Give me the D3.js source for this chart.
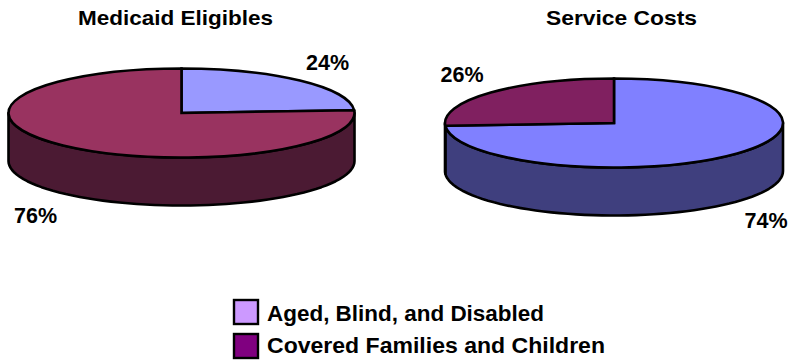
<!DOCTYPE html>
<html><head><meta charset="utf-8"><script src="https://cdn.jsdelivr.net/npm/d3@7"></script>
<style>html,body{margin:0;background:#fff}svg{display:block}text{font-family:"Liberation Sans";font-weight:bold;fill:#000}</style></head>
<body><svg id="c" width="790" height="361"></svg>
<script>
const chartTitles=["Medicaid Eligibles","Service Costs"];
const categories=["Aged, Blind, and Disabled","Covered Families and Children"];
const eligibles=[24,76];
const costs=[74,26];
const eligiblesTop=["#9999ff","#993360"];
const eligiblesSide=["#4c4c80","#4b1a33"];
const costsTop=["#8080ff","#802060"];
const costsSide=["#3f3f7e","#401030"];
const legendColors=["#cc99ff","#800080"];
const svg=d3.select("#c");
const pies=[
 {title:chartTitles[0],vals:eligibles,top:eligiblesTop,side:eligiblesSide,cx:181.5,cy:113,rx:173,ry:44.5,d:48,tx:175.5,ty:25,tl:195,
  labels:[{x:327.5,y:70},{x:35.5,y:223}]},
 {title:chartTitles[1],vals:costs,top:costsTop,side:costsSide,cx:614,cy:123,rx:169,ry:44.5,d:48,tx:621.5,ty:25,tl:151,
  labels:[{x:766,y:228},{x:462,y:82}]}
];
const pie=d3.pie().sort(null);
pies.forEach(p=>{
  const g=svg.append("g");
  const arcs=pie(p.vals);
  const px=d3.scaleLinear().domain([-1,1]).range([p.cx-p.rx,p.cx+p.rx]);
  const py=d3.scaleLinear().domain([-1,1]).range([p.cy-p.ry,p.cy+p.ry]);
  arcs.forEach((a,i)=>{
    const s=Math.max(a.startAngle,Math.PI/2), e=Math.min(a.endAngle,3*Math.PI/2);
    if(e<=s) return;
    const pts=d3.range(0,61).map(k=>s+(e-s)*k/60);
    const ptx=t=>[px(Math.sin(t)),py(-Math.cos(t))];
    const path=d3.path();
    pts.forEach((t,k)=>{const q=ptx(t);k?path.lineTo(q[0],q[1]):path.moveTo(q[0],q[1]);});
    pts.slice().reverse().forEach(t=>{const q=ptx(t);path.lineTo(q[0],q[1]+p.d);});
    path.closePath();
    g.append("path").attr("d",path.toString()).attr("fill",p.side[i]).attr("stroke","#000").attr("stroke-width",2.6).attr("stroke-linejoin","round");
  });
  const arc=d3.arc().innerRadius(0).outerRadius(1);
  const t=g.append("g").attr("transform",`translate(${p.cx},${p.cy}) scale(${p.rx},${p.ry})`);
  t.selectAll("path").data(arcs).join("path").attr("d",arc).attr("fill",(d,i)=>p.top[i])
    .attr("stroke","#000").attr("stroke-width",2.6).attr("vector-effect","non-scaling-stroke").attr("stroke-linejoin","miter");
  svg.append("text").attr("x",p.tx).attr("y",p.ty).attr("text-anchor","middle").attr("font-size",21).attr("textLength",p.tl).attr("lengthAdjust","spacingAndGlyphs").text(p.title);
  p.labels.forEach((l,i)=>svg.append("text").attr("x",l.x).attr("y",l.y).attr("text-anchor","middle").attr("font-size",21.5).text(p.vals[i]+"%"));
});
const lg=svg.selectAll("g.l").data(categories).join("g").attr("class","l");
lg.append("rect").attr("x",234).attr("y",(d,i)=>i?334:300).attr("width",24).attr("height",24)
  .attr("fill",(d,i)=>legendColors[i]).attr("stroke","#000").attr("stroke-width",2.4);
lg.append("text").attr("x",267).attr("y",(d,i)=>i?353:321).attr("font-size",21.5).attr("textLength",(d,i)=>i?338:277).attr("lengthAdjust","spacingAndGlyphs").text(d=>d);
</script></body></html>
